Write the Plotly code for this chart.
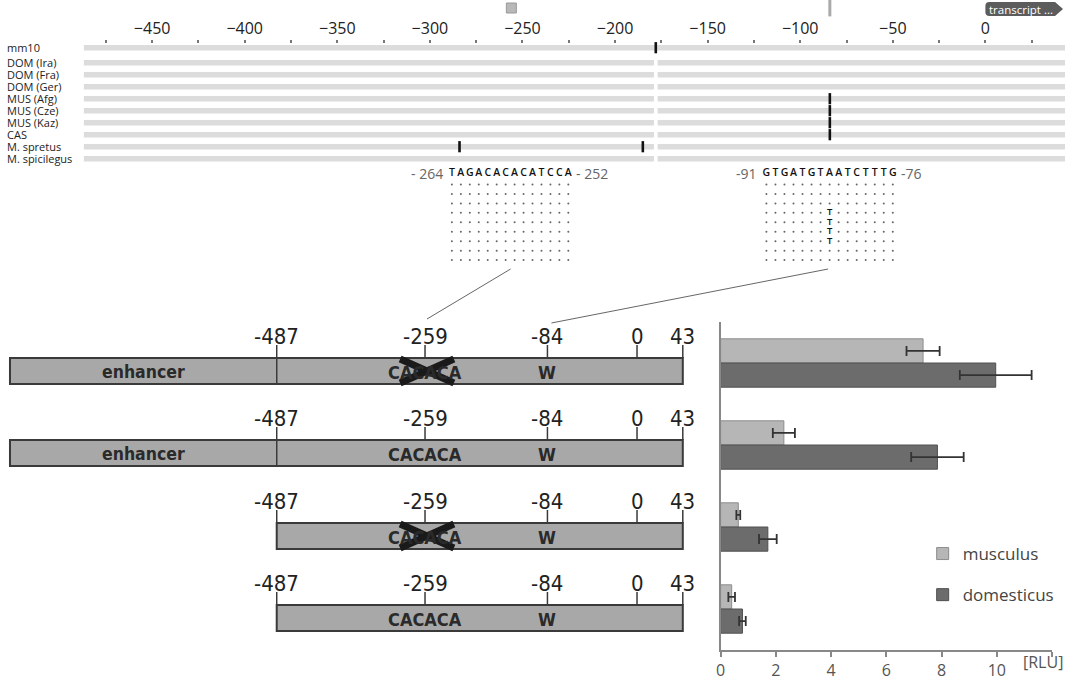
import plotly.graph_objects as go

# ---------------- data ----------------
SPECIES = ["mm10", "DOM (Ira)", "DOM (Fra)", "DOM (Ger)", "MUS (Afg)", "MUS (Cze)",
           "MUS (Kaz)", "CAS", "M. spretus", "M. spicilegus"]
REGION_START = -487
REGION_END = 43
INDEL_POS = -178          # gap present in all strains except mm10
SNP_POS = {               # black marks on the browser tracks
    "mm10": [-178],
    "MUS (Afg)": [-84],
    "MUS (Cze)": [-84],
    "MUS (Kaz)": [-84],
    "CAS": [-84],
    "M. spretus": [-284, -185],
}
GENOME_TICKS = [-450, -400, -350, -300, -250, -200, -150, -100, -50, 0]
SELECTION_MARKS = [-256, -84]

SEQ1 = "TAGACACACATCCA"
SEQ1_RANGE = ("- 264", "- 252")
ALIGN1 = ["..............", "..............", "..............", "..............",
          "..............", "..............", "..............", "..............",
          ".............."]
SEQ2 = "GTGATGTAATCTTTG"
SEQ2_RANGE = ("-91", "-76")
ALIGN2 = ["...............", "...............", "...............", ".......T.......",
          ".......T.......", ".......T.......", ".......T.......", "...............",
          "..............."]

SITE_LABELS = ["-487", "-259", "-84", "0", "43"]
HAS_ENHANCER = [True, True, False, False]
CACACA_DELETED = [True, False, True, False]

CONSTRUCTS = ["c1", "c2", "c3", "c4"]
MUSCULUS = [7.33, 2.29, 0.64, 0.40]
MUSCULUS_ERR = [0.60, 0.40, 0.07, 0.12]
DOMESTICUS = [9.96, 7.85, 1.71, 0.79]
DOMESTICUS_ERR = [1.30, 0.95, 0.32, 0.12]
RLU_TICKS = [0, 2, 4, 6, 8, 10, 12]
RLU_TICKTEXT = ["0", "2", "4", "6", "8", "10", ""]

# ---------------- layout constants (pixels) ----------------
W, H = 1065, 682
TRACK_LEFT_PX = 79
ROW_Y = [47.7, 62.7, 74.7, 86.7, 98.7, 110.7, 122.7, 134.7, 146.7, 158.7]
TRACK_H = 5.5
SCHEME_X = [273, 422, 545, 635, 681]
BOX_LEFT_ENH = 5
CONSTRUCT_TOP = [358, 440, 523, 605]
BOX_H = 26
NARROW = "Liberation Sans Narrow, DejaVu Sans Condensed, Roboto, sans-serif"
BASE_FONT = "Open Sans, DejaVu Sans, sans-serif"

fig = go.Figure()
shapes = []
annotations = []

# ---------------- genome browser tracks ----------------
tx, tb, ty = [], [], []
for name, yy in zip(SPECIES, ROW_Y):
    if name == "mm10":
        segs = [(REGION_START, REGION_END)]
    else:
        segs = [(REGION_START, INDEL_POS - 1), (INDEL_POS + 1, REGION_END)]
    for a, b in segs:
        tb.append(a)
        tx.append(b - a)
        ty.append(yy)
fig.add_trace(go.Bar(orientation="h", x=tx, base=tb, y=ty, width=TRACK_H,
                     marker=dict(color="#dcdcdc", line=dict(width=0)),
                     xaxis="x", yaxis="y", showlegend=False, hoverinfo="skip"))

mx, my = [], []
for name, yy in zip(SPECIES, ROW_Y):
    for p in SNP_POS.get(name, []):
        mx.append(p)
        my.append(yy)
fig.add_trace(go.Scatter(x=mx, y=my, mode="markers", xaxis="x", yaxis="y",
                         marker=dict(symbol="line-ns", size=8,
                                     line=dict(width=2.6, color="#111")),
                         showlegend=False, hoverinfo="skip"))

# selection marks above the axis
fig.add_trace(go.Scatter(x=[SELECTION_MARKS[0]], y=[8], mode="markers", xaxis="x", yaxis="y",
                         marker=dict(symbol="square", size=10, color="#b8b8b8",
                                     line=dict(width=1, color="#9a9a9a")),
                         showlegend=False, hoverinfo="skip"))
fig.add_trace(go.Scatter(x=[SELECTION_MARKS[1]], y=[8], mode="markers", xaxis="x", yaxis="y",
                         marker=dict(symbol="line-ns", size=12,
                                     line=dict(width=3, color="#aaaaaa")),
                         showlegend=False, hoverinfo="skip"))

for name, yy in zip(SPECIES, ROW_Y):
    annotations.append(dict(x=0, xref="paper", y=yy, yref="y", text=name,
                            showarrow=False, xanchor="left", yanchor="middle",
                            font=dict(family=BASE_FONT, size=11, color="#222")))

# transcript label
shapes.append(dict(type="path", xref="x2", yref="y2",
                   path="M 989,2 L 1055,2 L 1063,9 L 1055,16 L 989,16 Q 985,16 985,12 L 985,6 Q 985,2 989,2 Z",
                   fillcolor="#5c5c5c", line=dict(width=0)))
annotations.append(dict(x=1021, y=9.5, xref="x2", yref="y2", text="transcript ...",
                        showarrow=False, font=dict(family=BASE_FONT, size=11.5, color="white")))

# ---------------- sequence alignments ----------------
def add_alignment(seq, rng, align, x0, step, y_head, y_row0, row_step):
    xs = [x0 + i * step for i in range(len(seq))]
    fig.add_trace(go.Scatter(x=xs, y=[y_head] * len(seq), mode="text", text=list(seq),
                             textfont=dict(family=BASE_FONT, size=10.5, color="#111", weight=600),
                             xaxis="x2", yaxis="y2", showlegend=False, hoverinfo="skip"))
    annotations.append(dict(x=x0 - 7, y=y_head, xref="x2", yref="y2", text=rng[0],
                            showarrow=False, xanchor="right",
                            font=dict(family=BASE_FONT, size=14, color="#666")))
    annotations.append(dict(x=xs[-1] + 6, y=y_head, xref="x2", yref="y2", text=rng[1],
                            showarrow=False, xanchor="left",
                            font=dict(family=BASE_FONT, size=14, color="#666")))
    dx, dy, lx, ly, lt = [], [], [], [], []
    for r, row in enumerate(align):
        for c, ch in enumerate(row):
            if ch == ".":
                dx.append(xs[c]); dy.append(y_row0 + r * row_step)
            else:
                lx.append(xs[c]); ly.append(y_row0 + r * row_step); lt.append(ch)
    fig.add_trace(go.Scatter(x=dx, y=dy, mode="markers", xaxis="x2", yaxis="y2",
                             marker=dict(size=2, color="#666"), showlegend=False, hoverinfo="skip"))
    if lx:
        fig.add_trace(go.Scatter(x=lx, y=ly, mode="text", text=lt, xaxis="x2", yaxis="y2",
                                 textfont=dict(family=BASE_FONT, size=9.5, color="#111", weight=600),
                                 showlegend=False, hoverinfo="skip"))

add_alignment(SEQ1, SEQ1_RANGE, ALIGN1, 449, 9.0, 173, 184.5, 9.45)
add_alignment(SEQ2, SEQ2_RANGE, ALIGN2, 765, 9.07, 173, 184.5, 9.45)

# connector lines
shapes.append(dict(type="line", xref="x2", yref="y2", x0=424, y0=319, x1=508, y1=269,
                   line=dict(color="#666", width=1)))
shapes.append(dict(type="line", xref="x2", yref="y2", x0=549, y0=323, x1=827, y1=269,
                   line=dict(color="#666", width=1)))

# ---------------- construct schematics ----------------
for k, top in enumerate(CONSTRUCT_TOP):
    left = BOX_LEFT_ENH if HAS_ENHANCER[k] else SCHEME_X[0]
    shapes.append(dict(type="rect", xref="x2", yref="y2", x0=left, x1=SCHEME_X[-1],
                       y0=top, y1=top + BOX_H, fillcolor="#a8a8a8",
                       line=dict(color="#3a3a3a", width=2)))
    if HAS_ENHANCER[k]:
        shapes.append(dict(type="line", xref="x2", yref="y2", x0=SCHEME_X[0], x1=SCHEME_X[0],
                           y0=top, y1=top + BOX_H, line=dict(color="#3a3a3a", width=1.5)))
        annotations.append(dict(x=(left + SCHEME_X[0]) / 2, y=top + BOX_H / 2 + 1, xref="x2", yref="y2",
                                text="<b>enhancer</b>", showarrow=False,
                                font=dict(family=NARROW, size=17.5, color="#2a2a2a")))
    for lab, px in zip(SITE_LABELS, SCHEME_X):
        shapes.append(dict(type="line", xref="x2", yref="y2", x0=px, x1=px,
                           y0=top - 13, y1=top, line=dict(color="#3a3a3a", width=1.5)))
        annotations.append(dict(x=px, y=top - 22, xref="x2", yref="y2", text=lab,
                                showarrow=False,
                                font=dict(family=NARROW, size=22, color="#222")))
    annotations.append(dict(x=SCHEME_X[1], y=top + BOX_H / 2 + 1, xref="x2", yref="y2",
                            text="<b>CACACA</b>", showarrow=False,
                            font=dict(family=NARROW, size=18, color="#2a2a2a")))
    annotations.append(dict(x=SCHEME_X[2], y=top + BOX_H / 2 + 1, xref="x2", yref="y2",
                            text="<b>W</b>", showarrow=False,
                            font=dict(family=NARROW, size=18, color="#2a2a2a")))
    if CACACA_DELETED[k]:
        cx = SCHEME_X[1] + 2
        for (a, b) in [((cx - 27, top + 1), (cx + 27, top + BOX_H - 1)),
                       ((cx - 27, top + BOX_H - 1), (cx + 27, top + 1))]:
            shapes.append(dict(type="line", xref="x2", yref="y2", x0=a[0], y0=a[1],
                               x1=b[0], y1=b[1], line=dict(color="#1a1a1a", width=7)))

# ---------------- bar chart ----------------
fig.add_trace(go.Bar(orientation="h", y=CONSTRUCTS, x=MUSCULUS, name="musculus",
                     error_x=dict(type="data", array=MUSCULUS_ERR, color="#333", thickness=1.8, width=5),
                     marker=dict(color="#b6b6b6", line=dict(color="#8c8c8c", width=1)),
                     xaxis="x3", yaxis="y3", legendgroup="m", hoverinfo="skip"))
fig.add_trace(go.Bar(orientation="h", y=CONSTRUCTS, x=DOMESTICUS, name="domesticus",
                     error_x=dict(type="data", array=DOMESTICUS_ERR, color="#333", thickness=1.8, width=5),
                     marker=dict(color="#6c6c6c", line=dict(color="#505050", width=1)),
                     xaxis="x3", yaxis="y3", legendgroup="d", hoverinfo="skip"))

annotations.append(dict(x=1043, y=662, xref="x2", yref="y2", text="[RLU]", showarrow=False,
                        font=dict(family=BASE_FONT, size=16, color="#555")))

fig.update_layout(
    width=W, height=H, margin=dict(l=0, r=0, t=0, b=0),
    paper_bgcolor="white", plot_bgcolor="rgba(0,0,0,0)",
    barmode="group", bargap=0.41, bargroupgap=0,
    font=dict(family=BASE_FONT),
    xaxis=dict(domain=[TRACK_LEFT_PX / W, 1.0], range=[REGION_START, REGION_END],
               anchor="free", position=1 - 43 / H, side="top",
               tickvals=GENOME_TICKS, ticks="outside", ticklen=3, tickwidth=1.5, tickcolor="#777",
               tickfont=dict(family=BASE_FONT, size=16, color="#222"),
               minor=dict(dtick=25, tick0=0, ticks="outside", ticklen=3, tickwidth=1.5, tickcolor="#777"),
               showgrid=False, zeroline=False, showline=False, fixedrange=True),
    yaxis=dict(domain=[0, 1], range=[H, 0], anchor="x", visible=False, fixedrange=True),
    xaxis2=dict(domain=[0, 1], range=[0, W], anchor="y2", visible=False, fixedrange=True),
    yaxis2=dict(domain=[0, 1], range=[H, 0], anchor="x2", visible=False, fixedrange=True),
    xaxis3=dict(domain=[719 / W, 1052 / W], range=[0, 12], anchor="y3",
                tickvals=RLU_TICKS, ticktext=RLU_TICKTEXT, ticks="outside", ticklen=5,
                tickcolor="#888", tickwidth=1.5,
                tickfont=dict(family=BASE_FONT, size=16, color="#555"),
                showline=True, linecolor="#888", linewidth=1.5,
                showgrid=False, zeroline=False, fixedrange=True),
    yaxis3=dict(domain=[1 - 650 / H, 1 - 322 / H], anchor="x3", autorange="reversed",
                showticklabels=False, ticks="", showline=True, linecolor="#888", linewidth=1.5,
                showgrid=False, zeroline=False, fixedrange=True),
    legend=dict(x=922 / W, y=1 - 536 / H, xanchor="left", yanchor="top",
                traceorder="grouped", tracegroupgap=16, bgcolor="rgba(0,0,0,0)",
                font=dict(family=BASE_FONT, size=17, color="#444")),
    shapes=shapes, annotations=annotations,
)

fig.write_html("out.html", config={"displayModeBar": False},
               post_script="document.body.style.margin='0';document.body.style.overflow='hidden';")
